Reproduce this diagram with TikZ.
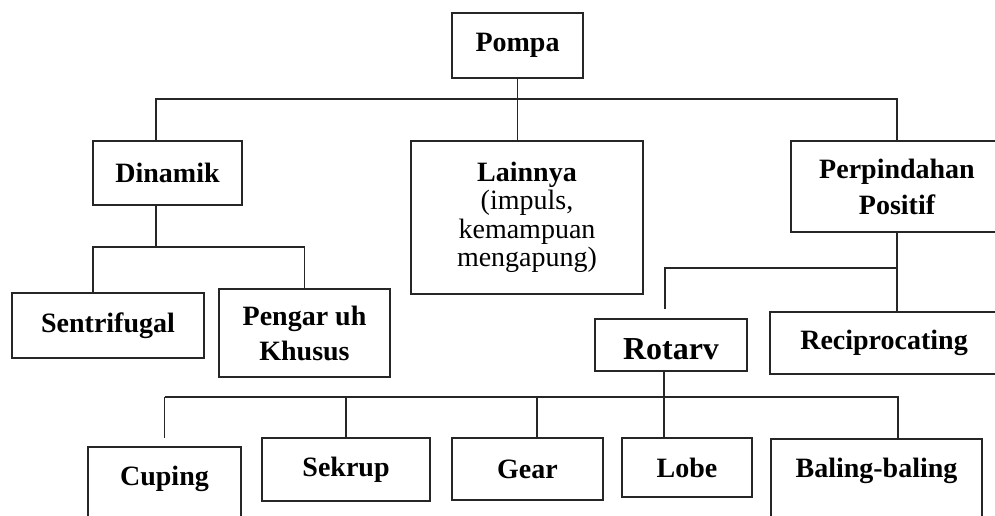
\documentclass[tikz,border=0pt]{standalone}
\usepackage{fontspec}
\setmainfont{Liberation Serif}
\begin{document}
\begin{tikzpicture}[x=1pt,y=-1pt,
  box/.style={draw=black!85, line width=1.5pt, inner sep=0pt, align=center,
    font=\bfseries\fontsize{28}{30}\selectfont},
  openbox/.style={box, anchor=north, inner ysep=20pt, text height=19pt, text depth=80pt},
  conn/.style={draw=black!85, line width=1.3pt}]
\useasboundingbox (0,0) rectangle (995,515);
\fill[white] (0,0) rectangle (995,515);
\clip (0,0) rectangle (995,515);

% level 0
\node[box, minimum width=131pt, minimum height=65pt] (pompa) at (517.5,45.5) {Pompa};

% level 1
\node[box, minimum width=149pt, minimum height=64pt] (dinamik) at (167.5,173) {Dinamik};
\node[box, minimum width=232pt, minimum height=153pt,
      font=\fontsize{28}{28.5}\selectfont] (lainnya) at (527,217.5)
      {\textbf{Lainnya}\\(impuls,\\kemampuan\\mengapung)};
\node[box, minimum width=212pt, minimum height=91pt,
      font=\bfseries\fontsize{28}{36}\selectfont] (pp) at (897,186.5) {Perpindahan\\Positif};

% level 2
\node[box, minimum width=192pt, minimum height=65pt] (sentri) at (108,325.5) {Sentrifugal};
\node[box, minimum width=171pt, minimum height=88pt,
      font=\bfseries\fontsize{28}{35}\selectfont] (pengaruh) at (304.5,333) {Pengar uh\\Khusus};
\node[box, minimum width=152pt, minimum height=52pt, text height=30pt,
      font=\bfseries\fontsize{32}{34}\selectfont] (rotary) at (671,345) {Rotarv};
\node[box, minimum width=228pt, minimum height=62pt] (recip) at (884,343) {Reciprocating};

% level 3
\node[openbox, minimum width=153pt] (cuping) at (164.5,446) {Cuping};
\node[box, minimum width=168pt, minimum height=63pt] (sekrup) at (346,469.5) {Sekrup};
\node[box, minimum width=151pt, minimum height=62pt] (gear) at (527.5,469) {Gear};
\node[box, minimum width=130pt, minimum height=59pt] (lobe) at (687,467.5) {Lobe};
\node[openbox, minimum width=211pt] (baling) at (876.5,438) {Baling-baling};

% bus lines
\coordinate (b1) at (0,99);
\coordinate (b2) at (0,247);
\coordinate (b3) at (0,268);
\coordinate (b4) at (0,397);

% Pompa -> level 1
\draw[conn] (pompa.south) -- (pompa.south |- lainnya.north);
\draw[conn] ([xshift=-11.5pt]dinamik.north) |- (b1 -| pp.north) -- (pp.north);

% Dinamik -> level 2
\draw[conn] ([xshift=-11.5pt]dinamik.south) -- ([xshift=-11.5pt]dinamik.south |- b2);
\draw[conn] ([xshift=-15pt]sentri.north) |- (b2 -| pengaruh.north) -- (pengaruh.north);

% Perpindahan Positif -> level 2
\draw[conn] (pp.south) -- (pp.south |- recip.north);
\draw[conn, shorten >=9pt] (pp.south |- b3) -| ([xshift=-6pt]rotary.north);

% Rotary -> level 3
\draw[conn] ([xshift=-7pt]rotary.south) -- ([xshift=-7pt]rotary.south |- lobe.north);
\draw[conn] ([xshift=21.5pt]baling.north) |- (b4 -| cuping.north);
\draw[conn, shorten >=8pt] (b4 -| cuping.north) -- (cuping.north);
\draw[conn] (b4 -| sekrup.north) -- (sekrup.north);
\draw[conn] ([xshift=9.5pt]gear.north |- b4) -- ([xshift=9.5pt]gear.north);
\end{tikzpicture}
\end{document}
